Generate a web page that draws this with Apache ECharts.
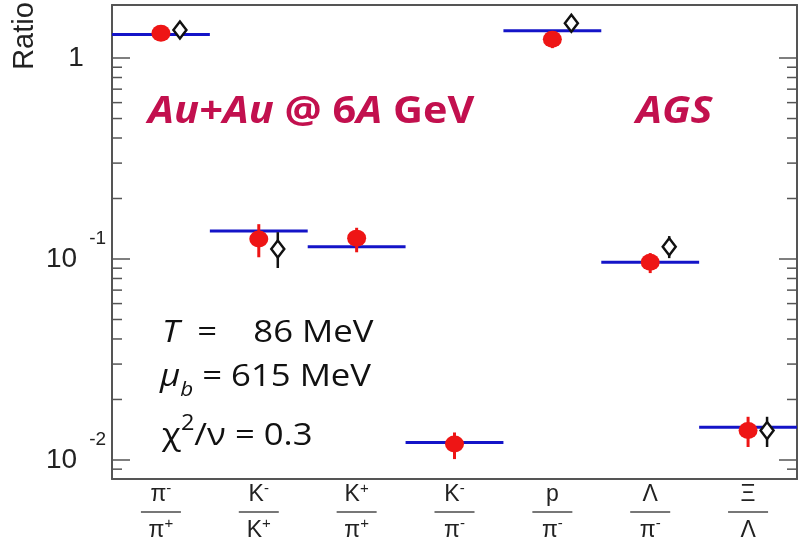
<!DOCTYPE html>
<html>
<head>
<meta charset="utf-8">
<script src="https://cdn.jsdelivr.net/npm/echarts@6/dist/echarts.min.js"></script>
<style>html,body{margin:0;padding:0;background:#fff}#c{width:799px;height:547px}</style>
</head>
<body>
<div id="c"></div>
<script>
// ---- data ----
const categories = ['π-/π+', 'K-/K+', 'K+/π+', 'K-/π-', 'p/π-', 'Λ/π-', 'Ξ/Λ'];
const numerators = ['π', 'K', 'K', 'K', 'p', 'Λ', 'Ξ'];
const numeratorSup = ['-', '-', '+', '-', '', '', ''];
const denominators = ['π', 'K', 'π', 'π', 'π', 'π', 'Λ'];
const denominatorSup = ['+', '+', '+', '-', '-', '-', ''];

// thermal model (blue lines)
const modelValues = [1.31, 0.138, 0.115, 0.0122, 1.367, 0.0963, 0.01455];
// data (red points) with errors
const redValues = [1.33, 0.1257, 0.127, 0.0120, 1.239, 0.0963, 0.0140];
const redLow = [1.33, 0.102, 0.108, 0.0101, 1.12, 0.0851, 0.0116];
const redHigh = [1.33, 0.149, 0.143, 0.0137, 1.36, 0.107, 0.0164];
// open diamonds with errors
const diamondValues = [1.38, 0.112, null, null, 1.488, 0.1151, 0.0140];
const diamondLow = [1.38, 0.0902, null, null, 1.488, 0.101, 0.0116];
const diamondHigh = [1.38, 0.136, null, null, 1.488, 0.130, 0.0164];

// y axis range and tick values
const yMin = 0.00804, yMax = 1.836;
const minorTickValues = [0.009, 0.02, 0.03, 0.04, 0.05, 0.06, 0.07, 0.08, 0.09,
  0.2, 0.3, 0.4, 0.5, 0.6, 0.7, 0.8, 0.9];

const chart = echarts.init(document.getElementById('c'), null, {renderer: 'canvas'});

const AXIS = '#555';
const DIAMOND_OFFSET = 19;
const RED = '#ee1515';
const TITLE = '#c2104e';
const STRETCH = 1.12;

function xLabel(v, i) {
  let s = '{n|' + numerators[i] + '}';
  if (numeratorSup[i]) s += '{s|' + numeratorSup[i] + '}';
  s += '\n{bar|}\n{d|' + denominators[i] + '}';
  if (denominatorSup[i]) s += '{s|' + denominatorSup[i] + '}';
  return s;
}

function yLabel(v) {
  const e = Math.log10(v);
  const r = Math.round(e);
  if (Math.abs(e - r) > 1e-6) return '';
  if (r === 0) return '{b|1}';
  return '{b|10}{s|' + r + '}';
}

function errBar(color, offset, width) {
  return function (params, api) {
    const i = api.value(0);
    const p1 = api.coord([i, api.value(1)]);
    const p2 = api.coord([i, api.value(2)]);
    return {
      type: 'line',
      shape: {x1: p1[0] + offset, y1: p1[1], x2: p2[0] + offset, y2: p2[1]},
      style: {stroke: color, lineWidth: width}
    };
  };
}

const option = {
  animation: false,
  backgroundColor: '#fff',
  grid: {left: 112, right: 2, top: 5, bottom: 68, containLabel: false},
  xAxis: [{
    type: 'category', data: categories, position: 'bottom', boundaryGap: true,
    axisLine: {lineStyle: {color: AXIS, width: 2}},
    axisTick: {inside: true, length: 16, lineStyle: {color: AXIS, width: 1.5}},
    axisLabel: {
      margin: 2, interval: 0, formatter: xLabel, color: '#222',
      fontFamily: 'Liberation Sans', fontSize: 23,
      rich: {
        n: {fontSize: 23, lineHeight: 27, fontFamily: 'Liberation Sans', color: '#222'},
        d: {fontSize: 23, lineHeight: 30, fontFamily: 'Liberation Sans', color: '#222'},
        s: {fontSize: 15, verticalAlign: 'top', fontFamily: 'Liberation Sans', color: '#222'},
        bar: {width: 40, height: 2, lineHeight: 8, backgroundColor: '#777'}
      }
    },
    splitLine: {show: false}
  }, {
    type: 'category', data: categories, position: 'top', boundaryGap: true,
    axisLine: {lineStyle: {color: AXIS, width: 2}},
    axisTick: {inside: true, length: 16, lineStyle: {color: AXIS, width: 1.5}},
    axisLabel: {show: false}, splitLine: {show: false}
  }],
  yAxis: [{
    type: 'log', logBase: 10, min: yMin, max: yMax, position: 'left',
    axisLine: {show: true, lineStyle: {color: AXIS, width: 2}},
    axisTick: {show: true, inside: true, length: 18, lineStyle: {color: AXIS, width: 1.5}},
    axisLabel: {
      show: true, showMinLabel: false, showMaxLabel: false, formatter: yLabel,
      align: 'center', margin: 36,
      rich: {
        b: {fontSize: 28, lineHeight: 60, fontFamily: 'Liberation Sans', color: '#222'},
        s: {fontSize: 19, verticalAlign: 'top', padding: [0, 0, 0, 12], fontFamily: 'Liberation Sans', color: '#222'}
      }
    },
    splitLine: {show: false}, minorTick: {show: false}
  }, {
    type: 'log', logBase: 10, min: yMin, max: yMax, position: 'right',
    axisLine: {show: true, lineStyle: {color: AXIS, width: 2}},
    axisTick: {show: true, inside: true, length: 18, lineStyle: {color: AXIS, width: 1.5}},
    axisLabel: {show: false}, splitLine: {show: false}
  }],
  series: [
    { // minor ticks on left and right
      type: 'custom', silent: true, z: 1,
      data: minorTickValues.map(v => [0, v]),
      renderItem: function (params, api) {
        const y = api.coord([0, api.value(1)])[1];
        const cs = params.coordSys;
        return {
          type: 'group', children: [
            {type: 'line', shape: {x1: cs.x, y1: y, x2: cs.x + 10, y2: y}, style: {stroke: AXIS, lineWidth: 1.5}},
            {type: 'line', shape: {x1: cs.x + cs.width - 10, y1: y, x2: cs.x + cs.width, y2: y}, style: {stroke: AXIS, lineWidth: 1.5}}
          ]
        };
      }
    },
    { // model lines
      type: 'custom', z: 2,
      data: modelValues.map((v, i) => [i, v]),
      renderItem: function (params, api) {
        const c = api.coord([api.value(0), api.value(1)]);
        const w = api.size([1, 0])[0];
        return {type: 'line', shape: {x1: c[0] - w / 2, y1: c[1], x2: c[0] + w / 2, y2: c[1]},
          style: {stroke: '#1414c8', lineWidth: 3}};
      }
    },
    { // red error bars
      type: 'custom', z: 3,
      data: redValues.map((v, i) => [i, redLow[i], redHigh[i]]),
      renderItem: errBar(RED, 0, 3)
    },
    { // red points
      type: 'scatter', z: 4, symbol: 'circle', symbolSize: [19, 17],
      itemStyle: {color: RED, opacity: 1},
      data: redValues.map((v, i) => [i, v])
    },
    { // diamond error bars
      type: 'custom', z: 5,
      data: diamondValues.map((v, i) => v == null ? null : [i, diamondLow[i], diamondHigh[i]]).filter(d => d),
      renderItem: errBar('#111', DIAMOND_OFFSET, 2.5)
    },
    { // open diamonds
      type: 'scatter', z: 6, symbol: 'diamond', symbolSize: [13, 17], symbolOffset: [DIAMOND_OFFSET, 0],
      itemStyle: {color: '#fff', borderColor: '#111', borderWidth: 2.5, opacity: 1},
      data: diamondValues.map((v, i) => v == null ? null : [i, v]).filter(d => d)
    }
  ],
  graphic: [
    {type: 'text', x: 25, y: 36, rotation: Math.PI / 2,
      style: {text: 'Ratio', font: '29px "Liberation Sans"', fill: '#222', align: 'center', verticalAlign: 'middle'}},
    {type: 'text', x: 148, y: 112, scaleX: STRETCH,
      style: {text: '{i|Au+Au }{n|@ 6}{i|A}{n| GeV}', align: 'left', verticalAlign: 'middle',
        rich: {
          i: {font: 'italic bold 37px "Open Sans"', fill: TITLE},
          n: {font: 'bold 37px "Open Sans"', fill: TITLE}
        }}},
    {type: 'text', x: 636, y: 112, scaleX: STRETCH,
      style: {text: 'AGS', font: 'italic bold 37px "Open Sans"', fill: TITLE, align: 'left', verticalAlign: 'middle'}},
    {type: 'text', x: 162, y: 333, scaleX: STRETCH,
      style: {text: '{i|T}{r|  =    86 MeV}', align: 'left', verticalAlign: 'middle',
        rich: {i: {font: 'italic 31px "Open Sans"', fill: '#111'}, r: {font: '31px "Open Sans"', fill: '#111'}}}},
    {type: 'text', x: 160, y: 377, scaleX: STRETCH,
      style: {text: '{i|μ}{sub|b}{r| = 615 MeV}', align: 'left', verticalAlign: 'middle',
        rich: {i: {font: 'italic 31px "Open Sans"', fill: '#111', lineHeight: 46},
          sub: {font: 'italic 20px "Open Sans"', fill: '#111', verticalAlign: 'bottom'},
          r: {font: '31px "Open Sans"', fill: '#111', lineHeight: 46}}}},
    {type: 'text', x: 162, y: 436, scaleX: STRETCH,
      style: {text: '{r|χ}{sup|2}{r|/ν = 0.3}', align: 'left', verticalAlign: 'middle',
        rich: {r: {font: '31px "Open Sans"', fill: '#111', lineHeight: 44},
          sup: {font: '21px "Open Sans"', fill: '#111', verticalAlign: 'top'}}}}
  ]
};
chart.setOption(option);
</script>
</body>
</html>
